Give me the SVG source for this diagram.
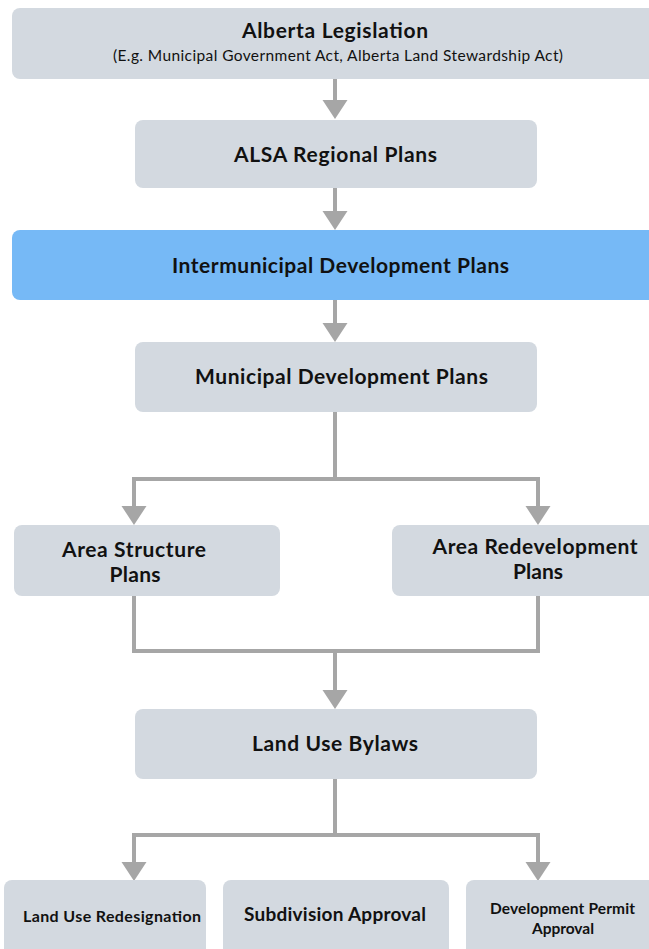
<svg xmlns="http://www.w3.org/2000/svg" width="649" height="949" viewBox="0 0 649 949">
<style>
.box{fill:#d3d9e0}
.blue{fill:#76b9f6}
.t{font-family:Lato,"Liberation Sans",sans-serif;font-weight:bold;fill:#111;text-anchor:middle}
.s{font-family:Lato,"Liberation Sans",sans-serif;font-weight:normal;fill:#111;text-anchor:middle}
.ln{fill:none;stroke:#a6a6a6;stroke-width:4}
</style>
<defs>
<path id="head" d="M-12.5,0 L12.5,0 L0,19 Z" fill="#a6a6a6"/>
</defs>
<g id="connectors">
<line class="ln" x1="335" y1="79" x2="335" y2="100"/>
<use href="#head" x="335" y="100"/>
<line class="ln" x1="335" y1="188" x2="335" y2="211"/>
<use href="#head" x="335" y="211"/>
<line class="ln" x1="335" y1="300" x2="335" y2="323"/>
<use href="#head" x="335" y="323"/>
<path class="ln" d="M335,412 V479 M134,479 H538 M134,477 V506 M538,477 V506"/>
<use href="#head" x="134" y="506"/>
<use href="#head" x="538" y="506"/>
<path class="ln" d="M134,596 V651 H538 V596 M335,651 V690"/>
<use href="#head" x="335" y="690"/>
<path class="ln" d="M335,779 V835 M134,835 H538 M134,833 V862 M538,833 V862"/>
<use href="#head" x="134" y="862"/>
<use href="#head" x="538" y="862"/>
</g>
<g id="n1">
<rect class="box" x="12" y="8" width="650" height="71" rx="8"/>
<text class="t" x="335" y="38" font-size="21" textLength="186">Alberta Legislation</text>
<text class="s" x="338" y="61" font-size="15.5" textLength="450">(E.g. Municipal Government Act, Alberta Land Stewardship Act)</text>
</g>
<g id="n2">
<rect class="box" x="135" y="120" width="402" height="68" rx="8"/>
<text class="t" x="335.5" y="162" font-size="21" textLength="203">ALSA Regional Plans</text>
</g>
<g id="n3">
<rect class="blue" x="12" y="230" width="650" height="70" rx="8"/>
<text class="t" x="340.5" y="273" font-size="21" textLength="337">Intermunicipal Development Plans</text>
</g>
<g id="n4">
<rect class="box" x="135" y="342" width="402" height="70" rx="8"/>
<text class="t" x="341.5" y="384" font-size="21" textLength="293">Municipal Development Plans</text>
</g>
<g id="n5">
<rect class="box" x="14" y="525" width="266" height="71" rx="8"/>
<text class="t" x="134" y="557" font-size="21" textLength="144">Area Structure</text>
<text class="t" x="135" y="582" font-size="21" textLength="51">Plans</text>
</g>
<g id="n6">
<rect class="box" x="392" y="525" width="270" height="71" rx="8"/>
<text class="t" x="535" y="554" font-size="21" textLength="205">Area Redevelopment</text>
<text class="t" x="538" y="579" font-size="21" textLength="50">Plans</text>
</g>
<g id="n7">
<rect class="box" x="135" y="709" width="402" height="70" rx="8"/>
<text class="t" x="335" y="751" font-size="21" textLength="166">Land Use Bylaws</text>
</g>
<g id="n8">
<rect class="box" x="4" y="880" width="202" height="80" rx="8"/>
<text class="t" x="112" y="922" font-size="16" textLength="178">Land Use Redesignation</text>
</g>
<g id="n9">
<rect class="box" x="223" y="880" width="226" height="80" rx="8"/>
<text class="t" x="335" y="921" font-size="19" textLength="182">Subdivision Approval</text>
</g>
<g id="n10">
<rect class="box" x="466" y="880" width="200" height="80" rx="8"/>
<text class="t" x="562.5" y="914" font-size="15.5" textLength="145">Development Permit</text>
<text class="t" x="563" y="934" font-size="15.5" textLength="62">Approval</text>
</g>
</svg>
